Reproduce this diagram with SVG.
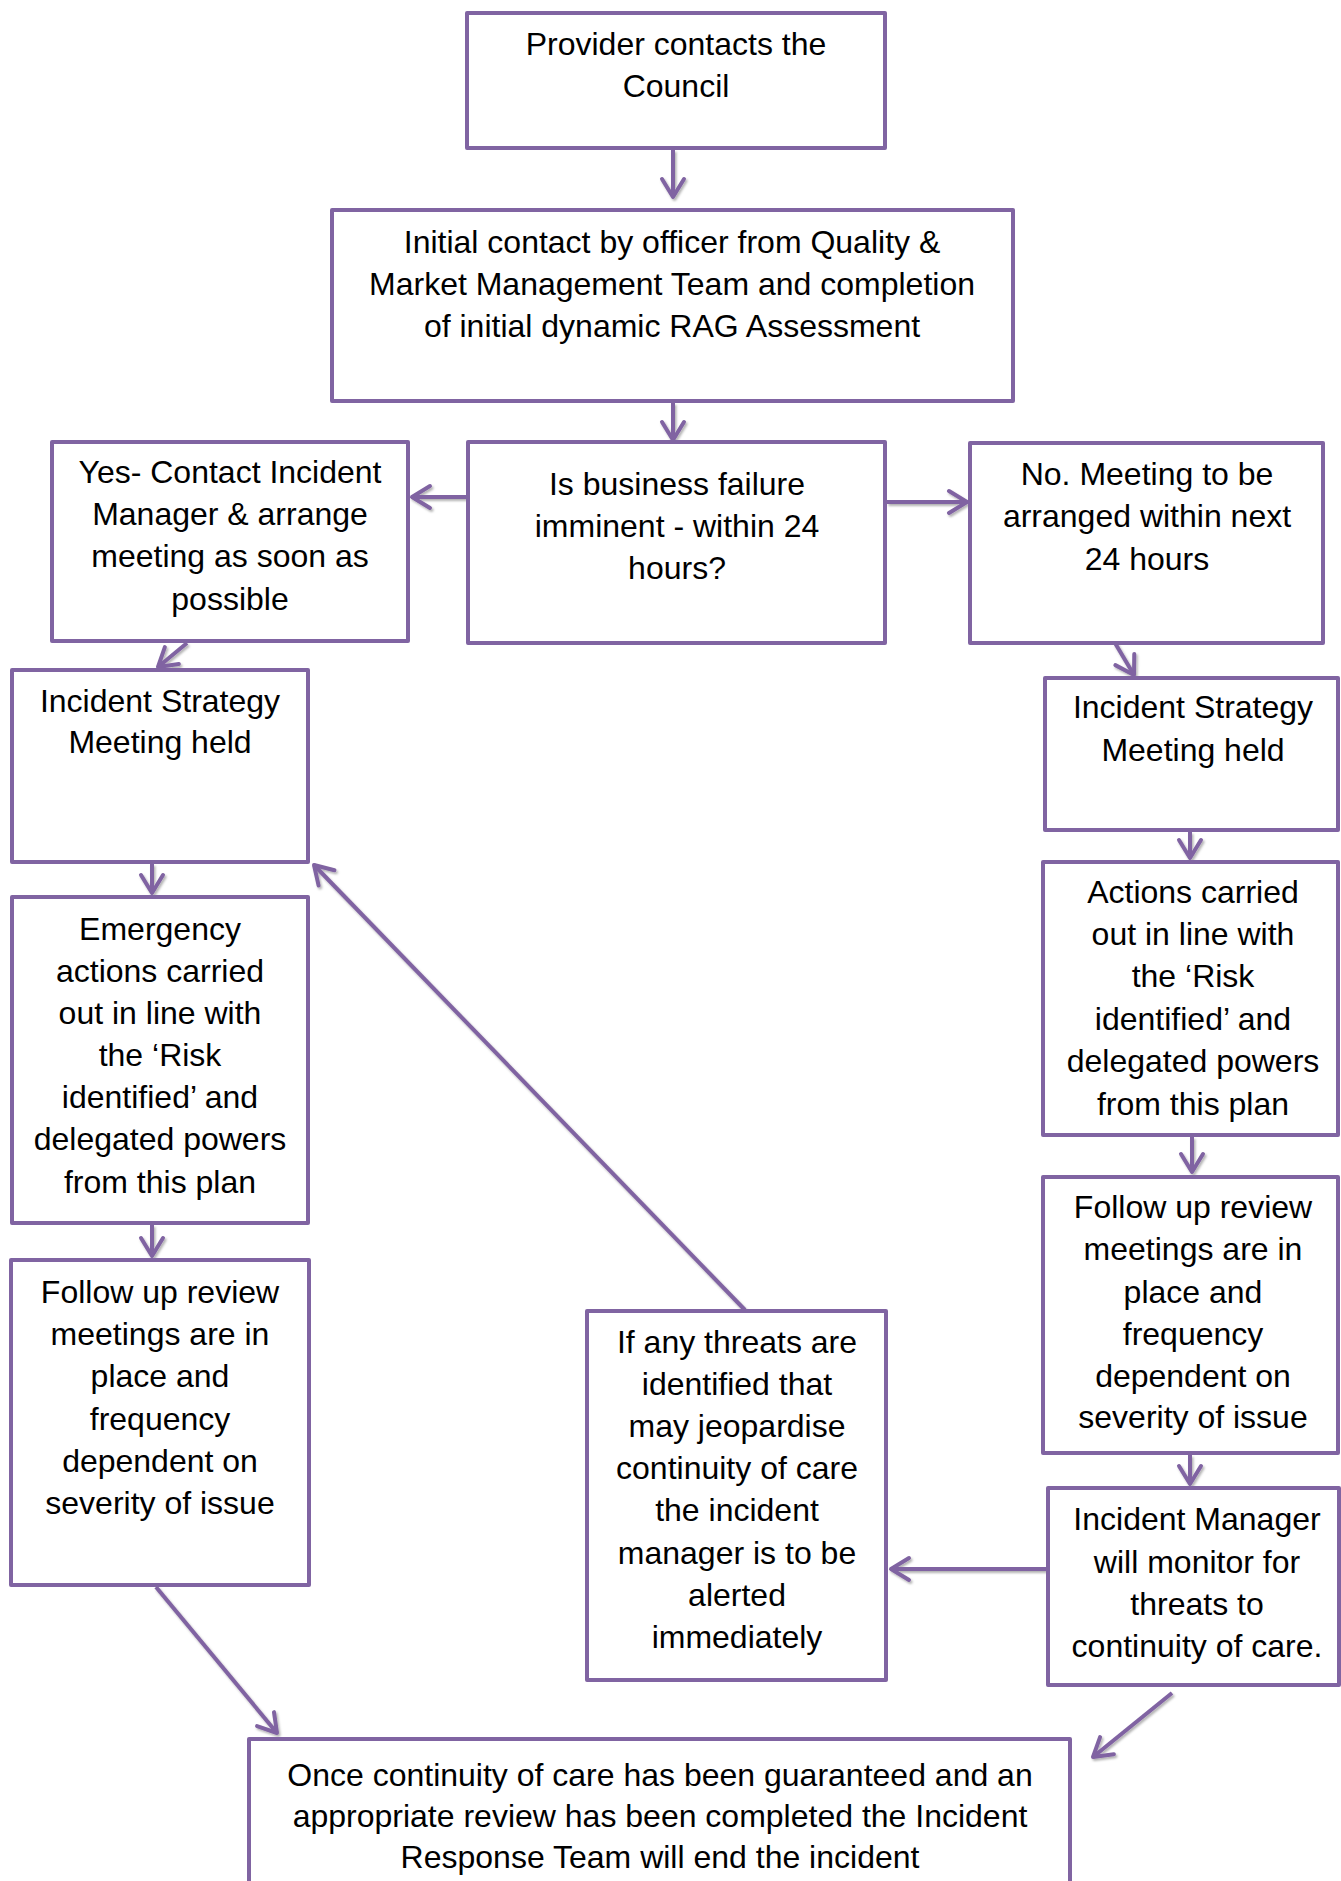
<svg xmlns="http://www.w3.org/2000/svg" width="1341" height="1881" viewBox="0 0 1341 1881">
<defs>
<style>
.box{fill:#ffffff;stroke:#8064A2;stroke-width:4;stroke-linejoin:round}
.t{font-family:"Liberation Sans",Arial,sans-serif;font-size:32px;fill:#000000;text-anchor:middle}
.c{fill:none;stroke:#8064A2;stroke-width:4;marker-end:url(#arr)}
</style>
<filter id="sh" x="-20%" y="-20%" width="140%" height="140%">
<feDropShadow dx="1.5" dy="2" stdDeviation="1.2" flood-color="#000000" flood-opacity="0.3"/>
</filter>
<marker id="arr" viewBox="-22 -14 26 28" refX="0" refY="0" markerWidth="26" markerHeight="28" markerUnits="userSpaceOnUse" orient="auto">
<path d="M -18 -11 L 0 0 L -18 11" fill="none" stroke="#8064A2" stroke-width="4" stroke-linecap="round" stroke-linejoin="round"/>
</marker>
</defs>
<rect width="1341" height="1881" fill="#ffffff"/>

<g id="connectors" filter="url(#sh)">
<line class="c" x1="673" y1="150" x2="673" y2="197"/>
<line class="c" x1="673" y1="403" x2="673" y2="440"/>
<line class="c" x1="466" y1="497" x2="412" y2="497"/>
<line class="c" x1="887" y1="502" x2="967" y2="502"/>
<line class="c" x1="187" y1="643" x2="158" y2="667"/>
<line class="c" x1="1115" y1="643" x2="1134" y2="675"/>
<line class="c" x1="152" y1="864" x2="152" y2="893"/>
<line class="c" x1="152" y1="1225" x2="152" y2="1256"/>
<line class="c" x1="156" y1="1587" x2="277" y2="1733"/>
<line class="c" x1="1190" y1="832" x2="1190" y2="858"/>
<line class="c" x1="1192" y1="1137" x2="1192" y2="1172"/>
<line class="c" x1="1190" y1="1455" x2="1190" y2="1484"/>
<line class="c" x1="1046" y1="1569" x2="891" y2="1569"/>
<line class="c" x1="1172" y1="1693" x2="1093" y2="1757"/>
<line class="c" x1="745" y1="1310" x2="314" y2="865"/>
</g>

<g id="n-provider">
<rect class="box" x="467" y="13" width="418" height="135"/>
<text class="t" x="676" y="55">Provider contacts the</text>
<text class="t" x="676" y="97">Council</text>
</g>

<g id="n-initial">
<rect class="box" x="332" y="210" width="681" height="191"/>
<text class="t" x="672" y="253">Initial contact by officer from Quality &amp;</text>
<text class="t" x="672" y="295">Market Management Team and completion</text>
<text class="t" x="672" y="337">of initial dynamic RAG Assessment</text>
</g>

<g id="n-yes">
<rect class="box" x="52" y="442" width="356" height="199"/>
<text class="t" x="230" y="483">Yes- Contact Incident</text>
<text class="t" x="230" y="525">Manager &amp; arrange</text>
<text class="t" x="230" y="567">meeting as soon as</text>
<text class="t" x="230" y="610">possible</text>
</g>

<g id="n-decision">
<rect class="box" x="468" y="442" width="417" height="201"/>
<text class="t" x="677" y="495">Is business failure</text>
<text class="t" x="677" y="537">imminent - within 24</text>
<text class="t" x="677" y="579">hours?</text>
</g>

<g id="n-no">
<rect class="box" x="970" y="443" width="353" height="200"/>
<text class="t" x="1147" y="485">No. Meeting to be</text>
<text class="t" x="1147" y="527">arranged within next</text>
<text class="t" x="1147" y="570">24 hours</text>
</g>

<g id="n-ism-left">
<rect class="box" x="12" y="670" width="296" height="192"/>
<text class="t" x="160" y="712">Incident Strategy</text>
<text class="t" x="160" y="753">Meeting held</text>
</g>

<g id="n-ism-right">
<rect class="box" x="1045" y="678" width="293" height="152"/>
<text class="t" x="1193" y="718">Incident Strategy</text>
<text class="t" x="1193" y="761">Meeting held</text>
</g>

<g id="n-emergency">
<rect class="box" x="12" y="897" width="296" height="326"/>
<text class="t" x="160" y="940">Emergency</text>
<text class="t" x="160" y="982">actions carried</text>
<text class="t" x="160" y="1024">out in line with</text>
<text class="t" x="160" y="1066">the ‘Risk</text>
<text class="t" x="160" y="1108">identified’ and</text>
<text class="t" x="160" y="1150">delegated powers</text>
<text class="t" x="160" y="1193">from this plan</text>
</g>

<g id="n-actions">
<rect class="box" x="1043" y="862" width="295" height="273"/>
<text class="t" x="1193" y="903">Actions carried</text>
<text class="t" x="1193" y="945">out in line with</text>
<text class="t" x="1193" y="987">the ‘Risk</text>
<text class="t" x="1193" y="1030">identified’ and</text>
<text class="t" x="1193" y="1072">delegated powers</text>
<text class="t" x="1193" y="1115">from this plan</text>
</g>

<g id="n-followup-left">
<rect class="box" x="11" y="1260" width="298" height="325"/>
<text class="t" x="160" y="1303">Follow up review</text>
<text class="t" x="160" y="1345">meetings are in</text>
<text class="t" x="160" y="1387">place and</text>
<text class="t" x="160" y="1430">frequency</text>
<text class="t" x="160" y="1472">dependent on</text>
<text class="t" x="160" y="1514">severity of issue</text>
</g>

<g id="n-followup-right">
<rect class="box" x="1043" y="1177" width="295" height="276"/>
<text class="t" x="1193" y="1218">Follow up review</text>
<text class="t" x="1193" y="1260">meetings are in</text>
<text class="t" x="1193" y="1303">place and</text>
<text class="t" x="1193" y="1345">frequency</text>
<text class="t" x="1193" y="1387">dependent on</text>
<text class="t" x="1193" y="1428">severity of issue</text>
</g>

<g id="n-threats">
<rect class="box" x="587" y="1311" width="299" height="369"/>
<text class="t" x="737" y="1353">If any threats are</text>
<text class="t" x="737" y="1395">identified that</text>
<text class="t" x="737" y="1437">may jeopardise</text>
<text class="t" x="737" y="1479">continuity of care</text>
<text class="t" x="737" y="1521">the incident</text>
<text class="t" x="737" y="1564">manager is to be</text>
<text class="t" x="737" y="1606">alerted</text>
<text class="t" x="737" y="1648">immediately</text>
</g>

<g id="n-monitor">
<rect class="box" x="1048" y="1488" width="291" height="197"/>
<text class="t" x="1197" y="1530">Incident Manager</text>
<text class="t" x="1197" y="1573">will monitor for</text>
<text class="t" x="1197" y="1615">threats to</text>
<text class="t" x="1197" y="1657">continuity of care.</text>
</g>

<g id="n-end">
<rect class="box" x="249" y="1739" width="821" height="170"/>
<text class="t" x="660" y="1786">Once continuity of care has been guaranteed and an</text>
<text class="t" x="660" y="1827">appropriate review has been completed the Incident</text>
<text class="t" x="660" y="1868">Response Team will end the incident</text>
</g>
</svg>
